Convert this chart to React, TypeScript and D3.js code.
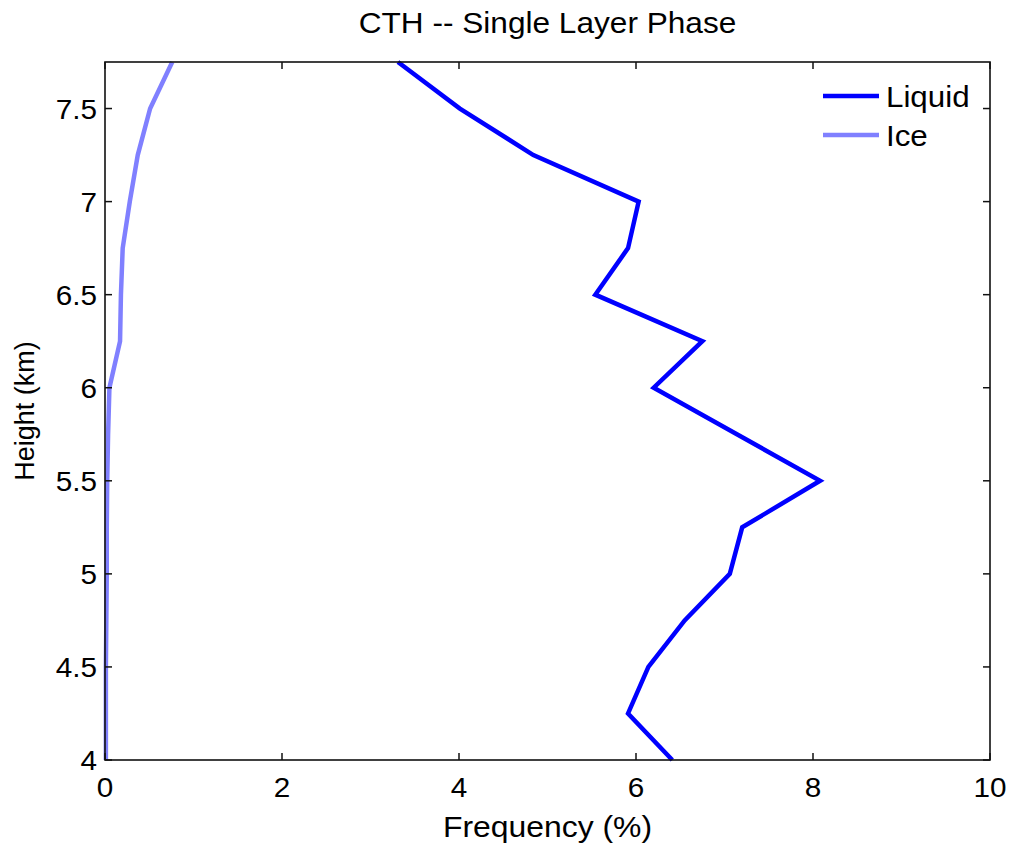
import React from "react";
import * as d3 from "d3";

const heights = [4.0, 4.25, 4.5, 4.75, 5.0, 5.25, 5.5, 5.75, 6.0, 6.25, 6.5, 6.75, 7.0, 7.25, 7.5, 7.75];
const liquid = [6.41, 5.91, 6.14, 6.55, 7.06, 7.2, 8.08, 7.14, 6.2, 6.75, 5.54, 5.91, 6.03, 4.84, 4.01, 3.31];
const ice = [0.01, 0.01, 0.01, 0.015, 0.02, 0.02, 0.025, 0.035, 0.05, 0.17, 0.18, 0.2, 0.28, 0.37, 0.51, 0.76];
const xTicks = [0, 2, 4, 6, 8, 10];
const yTicks = [4, 4.5, 5, 5.5, 6, 6.5, 7, 7.5];
const seriesNames = ["Liquid", "Ice"];
const seriesColors = ["#0000ff", "#8080ff"];

function T(props: { x: number; y: number; size: number; sx: number; anchor?: string; children: React.ReactNode }) {
  return (
    <text transform={`translate(${props.x},${props.y}) scale(${props.sx},1)`} textAnchor={props.anchor || "start"}
      fontSize={props.size} fill="#000">{props.children}</text>
  );
}

export default function App() {
  const W = 1013, H = 852;
  const L = 105, R = 990, Tp = 62, B = 760;
  const x = d3.scaleLinear().domain([0, 10]).range([L, R]);
  const y = d3.scaleLinear().domain([4, 7.75]).range([B, Tp]);
  const line = d3.line<[number, number]>().x(d => x(d[0])).y(d => y(d[1]));
  const series = [liquid, ice];
  const font = "'Liberation Sans', Arial, Helvetica, sans-serif";
  const tl = 7;
  return (
    <svg width={W} height={H} style={{ position: "absolute", left: 0, top: 0 }} fontFamily={font}>
      <rect width={W} height={H} fill="#fff" />
      {series.map((s, i) => (
        <path key={i} d={line(s.map((v, j) => [v, heights[j]] as [number, number])) || ""}
          fill="none" stroke={seriesColors[i]} strokeWidth={4.5} strokeLinejoin="miter" />
      ))}
      <rect x={L} y={Tp} width={R - L} height={B - Tp} fill="none" stroke="#111" strokeWidth={1.6} />
      {xTicks.map(t => (
        <g key={"x" + t}>
          <line x1={x(t)} x2={x(t)} y1={B} y2={B - tl} stroke="#111" strokeWidth={1.5} />
          <line x1={x(t)} x2={x(t)} y1={Tp} y2={Tp + tl} stroke="#111" strokeWidth={1.5} />
          <T x={x(t)} y={797} size={27} sx={1.1} anchor="middle">{t}</T>
        </g>
      ))}
      {yTicks.map(t => (
        <g key={"y" + t}>
          <line x1={L} x2={L + tl} y1={y(t)} y2={y(t)} stroke="#111" strokeWidth={1.5} />
          <line x1={R} x2={R - tl} y1={y(t)} y2={y(t)} stroke="#111" strokeWidth={1.5} />
          <T x={97} y={y(t) + 10} size={27} sx={1.1} anchor="end">{t}</T>
        </g>
      ))}
      <T x={(L + R) / 2} y={33} size={29} sx={1.09} anchor="middle">CTH -- Single Layer Phase</T>
      <T x={(L + R) / 2} y={837} size={29} sx={1.1} anchor="middle">Frequency (%)</T>
      <text transform={`translate(34,${(Tp + B) / 2}) rotate(-90)`} textAnchor="middle" fontSize={27}>Height (km)</text>
      {seriesNames.map((n, i) => (
        <g key={n}>
          <line x1={823} x2={879} y1={96 + i * 39} y2={96 + i * 39} stroke={seriesColors[i]} strokeWidth={4.5} />
          <T x={886} y={107 + i * 39} size={29} sx={1.08}>{n}</T>
        </g>
      ))}
    </svg>
  );
}
